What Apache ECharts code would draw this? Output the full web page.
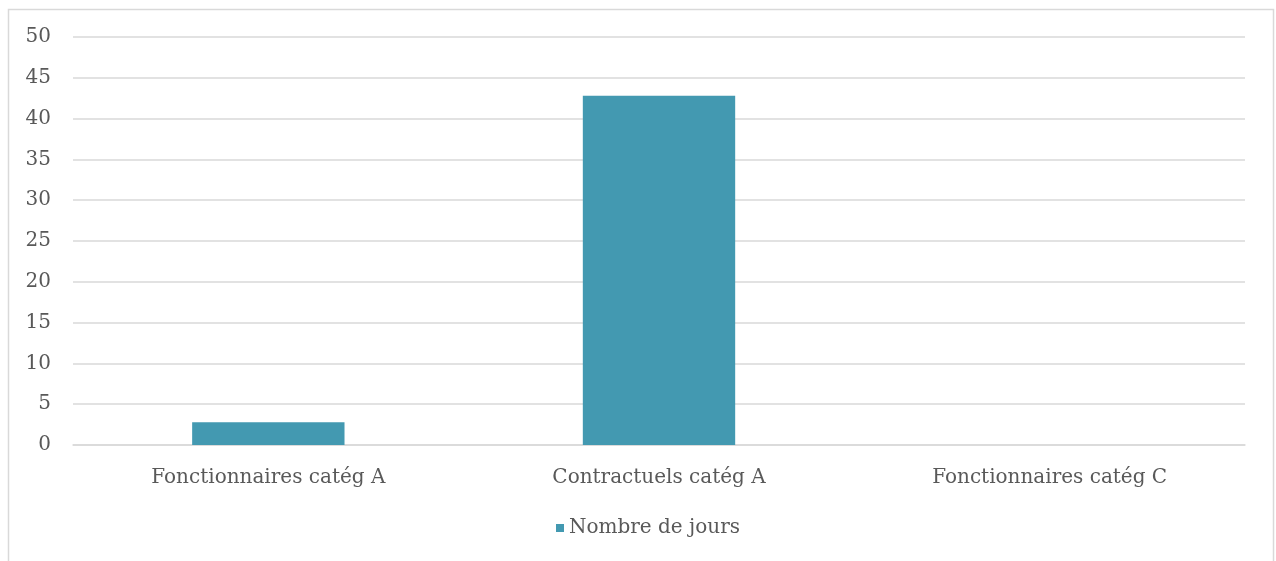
<!DOCTYPE html>
<html>
<head>
<meta charset="utf-8">
<script src="https://cdn.jsdelivr.net/npm/echarts@6/dist/echarts.min.js"></script>
<style>
  html, body { margin: 0; padding: 0; background: #fff; }
  #chart { width: 1276px; height: 561px; }
</style>
</head>
<body>
<div id="chart"></div>
<script>
var categories = ['Fonctionnaires catég A', 'Contractuels catég A', 'Fonctionnaires catég C']
var jours = [2.8, 42.8, 0]
var seriesName = 'Nombre de jours'

var font = 'DejaVu Serif'
var textColor = '#595959'
var lineColor = '#d9d9d9'

var chart = echarts.init(document.getElementById('chart'))
chart.setOption({
  animation: false,
  textStyle: { fontFamily: font },
  graphic: [{
    type: 'rect',
    shape: { x: 8.5, y: 9.5, width: 1265, height: 600 },
    style: { fill: 'none', stroke: lineColor, lineWidth: 1.5 },
    silent: true
  }],
  legend: {
    data: [seriesName],
    bottom: 18,
    left: 551,
    icon: 'rect',
    itemWidth: 8,
    itemHeight: 8,
    itemGap: 8,
    textStyle: { fontFamily: font, fontSize: 20, color: textColor }
  },
  grid: {
    left: 73,
    right: 31,
    top: 37,
    bottom: 116,
    containLabel: false
  },
  xAxis: {
    type: 'category',
    data: categories,
    axisTick: { show: false },
    axisLine: { lineStyle: { color: lineColor, width: 1.5 } },
    axisLabel: { fontFamily: font, fontSize: 20, color: textColor, margin: 23 }
  },
  yAxis: {
    type: 'value',
    min: 0,
    max: 50,
    interval: 5,
    axisLine: { show: false },
    axisTick: { show: false },
    splitLine: { lineStyle: { color: lineColor, width: 1.5 } },
    axisLabel: { fontFamily: font, fontSize: 20, color: textColor, margin: 22 }
  },
  series: [{
    name: seriesName,
    type: 'bar',
    data: jours,
    barWidth: '39%',
    itemStyle: { color: '#4399b1' }
  }]
})
</script>
</body>
</html>
